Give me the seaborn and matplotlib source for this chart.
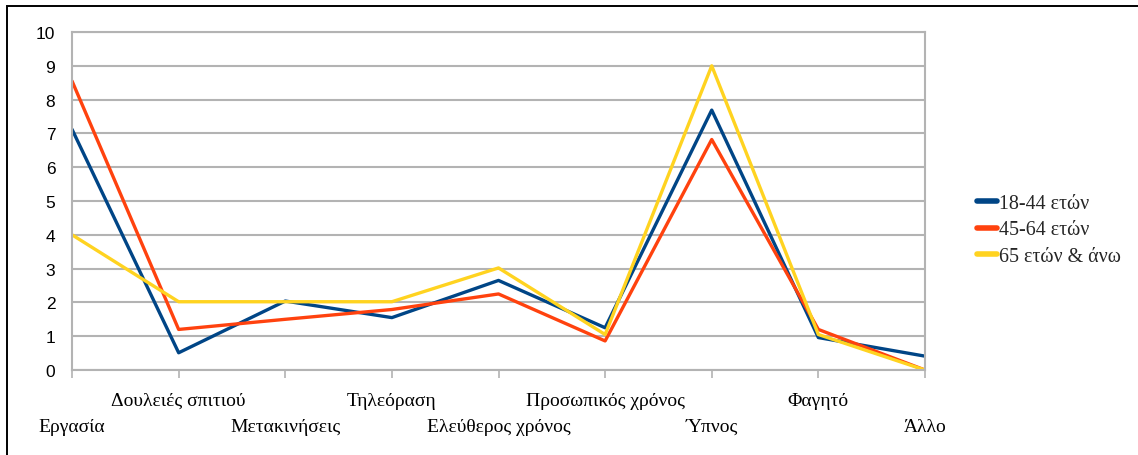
import numpy as np
import pandas as pd
import matplotlib
matplotlib.use('Agg')
import matplotlib.pyplot as plt
import matplotlib.transforms as mtrans
import seaborn as sns
from matplotlib.patches import Rectangle

categories = ['Εργασία', 'Δουλειές σπιτιού', 'Μετακινήσεις', 'Τηλεόραση',
              'Ελεύθερος χρόνος', 'Προσωπικός χρόνος', 'Ύπνος', 'Φαγητό', 'Άλλο']
age_18_44 = [7.12, 0.51, 2.04, 1.55, 2.65, 1.25, 7.69, 0.96, 0.41]
age_45_64 = [8.55, 1.20, 1.50, 1.79, 2.25, 0.86, 6.82, 1.20, 0.0]
age_65 = [4.0, 2.02, 2.02, 2.02, 3.02, 1.05, 9.0, 1.05, 0.0]
groups = ['18-44 ετών', '45-64 ετών', '65 ετών & άνω']
colors = ['#004586', '#ff420e', '#ffd320']

df = pd.DataFrame({
    'cat': categories * 3,
    'val': age_18_44 + age_45_64 + age_65,
    'group': [groups[0]] * 9 + [groups[1]] * 9 + [groups[2]] * 9,
})

sns.set_theme(style='white')
plt.rcParams['font.family'] = ['Liberation Sans', 'DejaVu Sans']
serif = ['Liberation Serif', 'DejaVu Serif']

fig = plt.figure(figsize=(11.38, 4.56), dpi=100)
ax = fig.add_axes([0.0633, 0.1864, 0.8128 - 0.0633, 0.9276 - 0.1864])

sns.lineplot(data=df, x='cat', y='val', hue='group', palette=colors,
             linewidth=2.4, ax=ax, sort=False)

ax.set_xlim(0, len(categories) - 1)
ax.set_ylim(0, 10)
ax.set_yticks(range(0, 11))
ax.set_xlabel('')
ax.set_ylabel('')

grid_c = '#b3b3b3'
ax.grid(axis='y', color=grid_c, linewidth=1.5)
ax.set_axisbelow(True)
for s in ax.spines.values():
    s.set_color(grid_c)
    s.set_linewidth(1.5)

ax.tick_params(axis='y', length=5, width=1.2, color=grid_c, pad=7,
               labelsize=12.5, labelcolor='black')
ax.tick_params(axis='x', length=6, width=1.2, color=grid_c, pad=9.5,
               labelsize=14, labelcolor='black', bottom=True)
ax.set_xticks(range(len(categories)))
ax.set_xticklabels(categories, family=serif)

# stagger labels: even ones go on a lower row
shift = mtrans.ScaledTranslation(0, -19 / 72, fig.dpi_scale_trans)
for i, lbl in enumerate(ax.get_xticklabels()):
    if i % 2 == 0:
        lbl.set_transform(lbl.get_transform() + shift)

leg = ax.legend(loc='center left', bbox_to_anchor=(977 / 1138, 1 - 231 / 456),
                bbox_transform=fig.transFigure, frameon=False,
                borderaxespad=0, borderpad=0,
                prop={'family': serif, 'size': 14.4},
                handlelength=1.0, handletextpad=0.1, labelspacing=0.38)
for line in leg.get_lines():
    line.set_linewidth(4)

fig.add_artist(Rectangle((0.006, -0.05), 1.1, 1.0353, transform=fig.transFigure,
                         fill=False, edgecolor='black', linewidth=1.4))

fig.savefig('out.png', dpi=100)
